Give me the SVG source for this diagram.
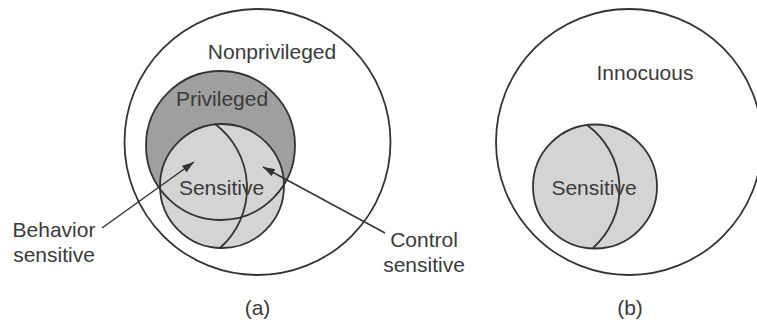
<svg xmlns="http://www.w3.org/2000/svg" width="757" height="324" viewBox="0 0 757 324">
  <style>
    .outline { fill: #ffffff; stroke: #333333; stroke-width: 1.8; }
    .priv { fill: #9f9f9f; stroke: #333333; stroke-width: 1.8; }
    .sens { fill: #d4d4d4; stroke: #333333; stroke-width: 1.8; }
    .curve { fill: none; stroke: #333333; stroke-width: 1.8; }
    .lbl { font-family: "Liberation Sans", Arial, sans-serif; font-size: 21px; fill: #3a3a3a; text-anchor: middle; }
    .conn { stroke: #333333; stroke-width: 1.5; fill: none; marker-end: url(#arrow); }
  </style>
  <defs>
    <marker id="arrow" viewBox="0 0 12 8" refX="12" refY="4" markerWidth="12" markerHeight="8" markerUnits="userSpaceOnUse" orient="auto">
      <path d="M0,0 L12,4 L0,8 Z" fill="#333333"/>
    </marker>
    <clipPath id="clipA"><circle cx="222" cy="186" r="62"/></clipPath>
  </defs>
  <rect width="757" height="324" fill="#ffffff"/>

  <g id="nonprivileged">
    <circle class="outline" cx="257.5" cy="142" r="133"/>
    <text class="lbl" x="272" y="59">Nonprivileged</text>
  </g>
  <g id="privileged">
    <circle class="priv" cx="220.5" cy="145.5" r="74.5"/>
    <text class="lbl" x="222" y="106">Privileged</text>
  </g>
  <g id="sensitive-a">
    <circle class="sens" cx="222" cy="186" r="62"/>
    <circle class="curve" cx="220.5" cy="145.5" r="74.5" clip-path="url(#clipA)"/>
    <path class="curve" d="M 215 124 A 80 80 0 0 1 220 248"/>
    <text class="lbl" x="221.5" y="195">Sensitive</text>
  </g>

  <g id="behavior-sensitive">
    <text class="lbl" x="54" y="237">Behavior</text>
    <text class="lbl" x="54" y="262">sensitive</text>
  </g>
  <g id="control-sensitive">
    <text class="lbl" x="424" y="247">Control</text>
    <text class="lbl" x="424" y="272">sensitive</text>
  </g>
  <text class="lbl" x="257.5" y="315">(a)</text>

  <g id="innocuous">
    <circle class="outline" cx="629" cy="142" r="133"/>
    <text class="lbl" x="645" y="80">Innocuous</text>
  </g>
  <g id="sensitive-b">
    <circle class="sens" cx="595" cy="186.5" r="62"/>
    <path class="curve" d="M 587 125 A 79 79 0 0 1 593 248"/>
    <text class="lbl" x="594" y="195">Sensitive</text>
  </g>
  <text class="lbl" x="630" y="315">(b)</text>

  <g id="connectors">
    <line class="conn" x1="102" y1="228" x2="194" y2="162"/>
    <line class="conn" x1="385" y1="233" x2="263" y2="167"/>
  </g>
</svg>
